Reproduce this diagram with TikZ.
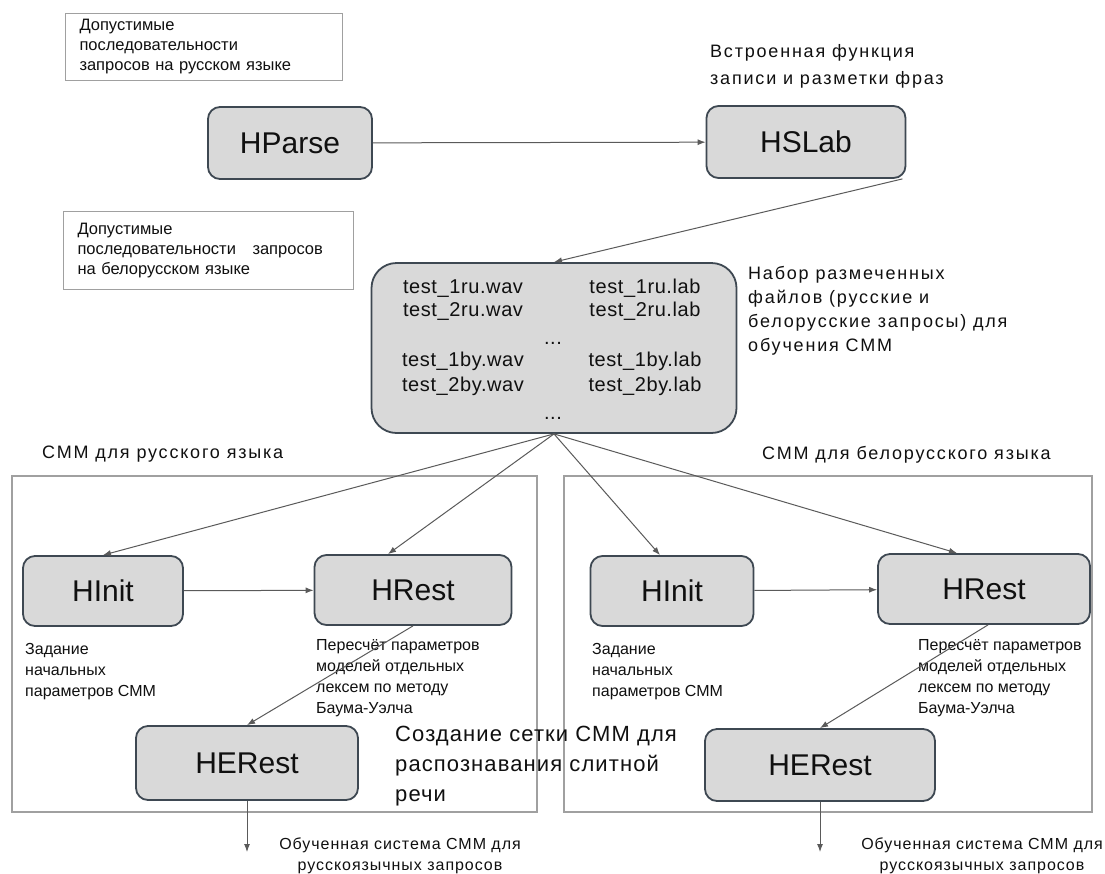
\documentclass[tikz,border=0pt]{standalone}
\usepackage{fontspec}
\setmainfont{Liberation Sans}
\usetikzlibrary{arrows.meta,calc}
\definecolor{progfill}{HTML}{D9D9D9}
\definecolor{progedge}{HTML}{3E4852}
\definecolor{framecol}{HTML}{A0A0A0}
\definecolor{conn}{HTML}{5A5A5A}
\definecolor{ink}{HTML}{101010}
\begin{document}
\begin{tikzpicture}[x=1pt,y=-1pt,
  prog/.style={draw=progedge,line width=1.8pt,fill=progfill,rounded corners=12pt,
    font=\fontsize{30}{34}\selectfont,inner sep=0pt,text=ink},
  notebox/.style={draw=framecol,line width=1pt,fill=white,anchor=north west,align=left,
    inner xsep=14pt,inner ysep=0pt,font=\fontsize{16.5}{20}\selectfont,text=ink},
  caption/.style={anchor=north west,align=left,inner sep=0pt,
    font=\fontsize{16}{21}\selectfont,text=ink},
  heading/.style={anchor=north west,align=left,inner sep=0pt,
    font=\fontsize{18}{24}\selectfont\addfontfeature{LetterSpace=10},text=ink},
  result/.style={anchor=north,align=center,inner sep=0pt,
    font=\fontsize{16}{21}\selectfont\addfontfeature{LetterSpace=6},text=ink},
  fname/.style={anchor=base,inner sep=0pt,
    font=\fontsize{20}{22}\selectfont\addfontfeature{LetterSpace=3},text=ink},
  flow/.style={draw=conn,line width=1pt,-{Latex[length=8pt,width=6pt]}},
  group/.style={draw=framecol,line width=1.2pt}
]
\useasboundingbox[fill=white] (0,0) rectangle (1105,873);

% input descriptions
\node[notebox,text width=249pt,minimum height=67pt] (n1) at (65,13)
  {Допустимые\\последовательности\\запросов на русском языке};
\node[notebox,text width=262pt,minimum height=78pt] (n2) at (63,211)
  {Допустимые\\последовательности\ \ \ запросов\\на белорусском языке};

% grammar and labelling
\node[prog,minimum width=164pt,minimum height=72pt] (hparse) at (290,143) {HParse};
\node[prog,minimum width=199pt,minimum height=72pt] (hslab) at (806,142) {HSLab};
\node[heading,font=\fontsize{18}{27}\selectfont\addfontfeature{LetterSpace=10}] (hslabcap) at (710,44)
  {Встроенная функция\\записи и разметки фраз};

% labelled training data
\node[prog,rounded corners=25pt,minimum width=365pt,minimum height=170pt] (data) at (554,348) {};
\node[fname] (f1) at (463,293) {test\_1ru.wav};
\node[fname] (f2) at (645,293) {test\_1ru.lab};
\node[fname] (f3) at (463,316) {test\_2ru.wav};
\node[fname] (f4) at (645,316) {test\_2ru.lab};
\node[fname] (d1) at (553,344) {...};
\node[fname] (f5) at (463,366) {test\_1by.wav};
\node[fname] (f6) at (645,366) {test\_1by.lab};
\node[fname] (f7) at (463,391) {test\_2by.wav};
\node[fname] (f8) at (645,391) {test\_2by.lab};
\node[fname] (d2) at (553,419) {...};
\node[heading] (datacap) at (748,266)
  {Набор размеченных\\файлов (русские и\\белорусские запросы) для\\обучения СММ};

% group frames
\draw[group] (12,476) rectangle (537,812);
\draw[group] (564,476) rectangle (1092,812);
\node[heading] (gl) at (42,446) {СММ для русского языка};
\node[heading] (gr) at (762,446) {СММ для белорусского языка};

% Russian models
\node[prog,minimum width=160pt,minimum height=70pt] (hinitL) at (103,591) {HInit};
\node[prog,minimum width=197pt,minimum height=70pt] (hrestL) at (413,590) {HRest};
\node[prog,minimum width=222pt,minimum height=74pt] (herestL) at (247,763) {HERest};
\node[caption] (cinitL) at (25,643) {Задание\\начальных\\параметров СММ};
\node[caption] (crestL) at (316,639) {Пересчёт параметров\\моделей отдельных\\лексем по методу\\Баума-Уэлча};
\node[anchor=north west,align=left,inner sep=0pt,text=ink,
  font=\fontsize{22}{30}\selectfont\addfontfeature{LetterSpace=5}] (net) at (395,726)
  {Создание сетки СММ для\\распознавания слитной\\речи};
\coordinate (outL) at (247,852);
\node[result] (rL) at (400,838) {Обученная система СММ для\\русскоязычных запросов};

% Belarusian models
\node[prog,minimum width=163pt,minimum height=70pt] (hinitR) at (672,591) {HInit};
\node[prog,minimum width=212pt,minimum height=70pt] (hrestR) at (984,589) {HRest};
\node[prog,minimum width=230pt,minimum height=72pt] (herestR) at (820,765) {HERest};
\node[caption] (cinitR) at (592,643) {Задание\\начальных\\параметров СММ};
\node[caption] (crestR) at (918,639) {Пересчёт параметров\\моделей отдельных\\лексем по методу\\Баума-Уэлча};
\coordinate (outR) at (820,852);
\node[result] (rR) at (982,838) {Обученная система СММ для\\русскоязычных запросов};

% connectors
\draw[flow] (hparse) -- (hslab);
\draw[flow] ($(hslab.south east)+(-4,0)$) -- (data.north);
\draw[flow] (data.south) -- (hinitL.north);
\draw[flow] (data.south) -- ($(hrestL.north)+(-25,0)$);
\draw[flow] (data.south) -- ($(hinitR.north)+(-12,0)$);
\draw[flow] (data.south) -- ($(hrestR.north)+(-27,0)$);
\draw[flow] (hinitL) -- (hrestL);
\draw[flow] (hinitR) -- (hrestR);
\draw[flow] (hrestL.south) -- (herestL.north);
\draw[flow] ($(hrestR.south)+(4,0)$) -- (herestR.north);
\draw[flow] (herestL.south) -- (outL);
\draw[flow] (herestR.south) -- (outR);
\end{tikzpicture}
\end{document}
